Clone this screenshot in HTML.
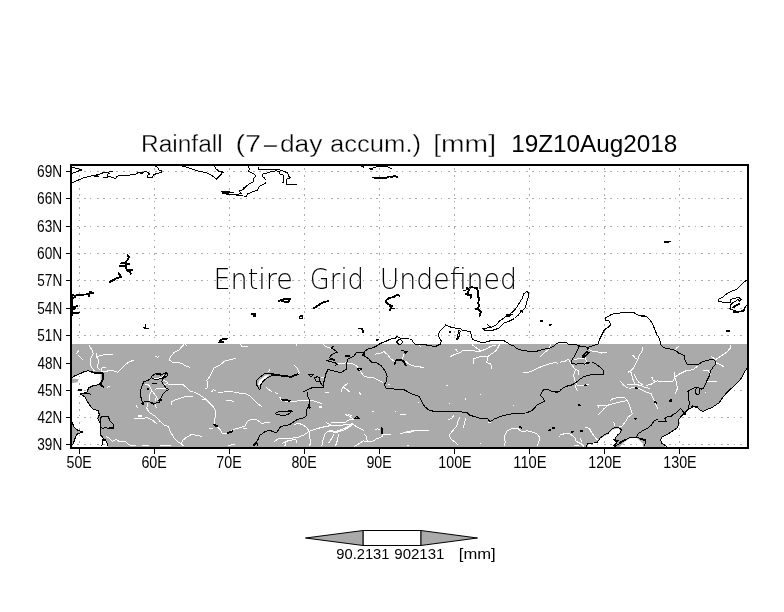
<!DOCTYPE html>
<html><head><meta charset="utf-8"><title>Rainfall (7-day accum.) [mm]</title>
<style>html,body{margin:0;padding:0;background:#fff}svg{display:block}text{font-family:"Liberation Sans","DejaVu Sans",sans-serif;fill:#000}.tt{stroke:#fff;stroke-width:0.35px;paint-order:fill stroke}.lt{font-family:"DejaVu Sans","Liberation Sans",sans-serif;font-weight:200;stroke:none}.b{shape-rendering:crispEdges;fill:none;stroke:#000;stroke-width:8;stroke-linejoin:round;stroke-linecap:butt}.B{shape-rendering:crispEdges;fill:none;stroke:#000;stroke-width:15;stroke-linejoin:round;stroke-linecap:round}.w{shape-rendering:crispEdges;fill:none;stroke:#fff;stroke-width:8;stroke-linejoin:round}.W{shape-rendering:crispEdges;fill:none;stroke:#fff;stroke-width:16;stroke-linejoin:round}.g{shape-rendering:crispEdges;stroke:#aaaaaa;stroke-width:1;stroke-dasharray:2 4.5 2 4.5 1 5.5;fill:none}</style></head><body>
<svg width="784" height="612" viewBox="0 0 784 612">
<rect width="784" height="612" fill="#fff"/>
<rect x="71" y="344" width="677" height="104" fill="#aaaaaa"/>
<g transform="translate(70 316) scale(0.125)"><path d="M16,495 L40,480 L80,464 L110,450 L145,440 L175,450 L205,460 L245,462 L245,520 L228,545 L185,556 L150,572 L132,608 L16,608 Z" fill="#fff"/></g>
<g transform="translate(658 316) scale(0.125)"><path d="M712,420 L690,450 L670,490 L650,520 L620,550 L580,585 L555,608 L712,608 Z" fill="#fff"/></g>
<g transform="translate(70 392) scale(0.125)"><path d="M16,0 L132,0 L85,20 L120,40 L150,95 L180,135 L225,150 L235,180 L222,215 L240,245 L240,300 L245,345 L268,370 L290,395 L305,448 L16,448 Z" fill="#fff"/></g>
<g transform="translate(560 392) scale(0.125)"><path d="M215,448 L230,412 L300,402 L325,372 L385,335 L420,300 L470,290 L485,320 L455,350 L440,380 L450,405 L430,448 Z" fill="#fff"/><path d="M470,448 L520,395 L560,370 L610,365 L640,390 L660,410 L665,448 Z" fill="#fff"/></g>
<g transform="translate(658 392) scale(0.125)"><path d="M555,0 L530,30 L510,55 L490,85 L460,105 L430,125 L400,135 L360,155 L330,145 L310,120 L285,120 L240,145 L215,170 L180,200 L160,230 L165,265 L150,290 L120,310 L90,330 L60,345 L30,360 L20,385 L30,410 L65,448 L712,448 L712,0 Z" fill="#fff"/></g>
<g transform="translate(236 360) scale(0.125)"><path d="M175,200 L185,165 L230,125 L265,118 L245,140 L215,165 L200,200 Z" fill="#fff"/></g>
<g transform="translate(70 316) scale(0.125)"><path d="M16,500 L70,505 L60,530 L16,535 Z" fill="#aaaaaa"/></g>
<g transform="translate(70 392) scale(0.125)"><path d="M16,245 L30,275 L55,300 L100,320 L60,335 L45,355 L35,390 L20,425 L16,448 Z" fill="#aaaaaa"/><path d="M240,215 L250,200 L305,195 L320,230 L350,260 L345,285 L320,295 L290,285 L260,290 L245,275 Z" fill="#aaaaaa"/></g>
<line class="g" x1="77" x2="746" y1="444.5" y2="444.5"/>
<line class="g" x1="77" x2="746" y1="417.5" y2="417.5"/>
<line class="g" x1="77" x2="746" y1="390.5" y2="390.5"/>
<line class="g" x1="77" x2="746" y1="363.5" y2="363.5"/>
<line class="g" x1="77" x2="746" y1="335.5" y2="335.5"/>
<line class="g" x1="77" x2="746" y1="308.5" y2="308.5"/>
<line class="g" x1="77" x2="746" y1="280.5" y2="280.5"/>
<line class="g" x1="77" x2="746" y1="253.5" y2="253.5"/>
<line class="g" x1="77" x2="746" y1="226.5" y2="226.5"/>
<line class="g" x1="77" x2="746" y1="198.5" y2="198.5"/>
<line class="g" x1="77" x2="746" y1="171.5" y2="171.5"/>
<line class="g" x1="79.5" x2="79.5" y1="168" y2="446"/>
<line class="g" x1="154.5" x2="154.5" y1="168" y2="446"/>
<line class="g" x1="229.5" x2="229.5" y1="168" y2="446"/>
<line class="g" x1="304.5" x2="304.5" y1="168" y2="446"/>
<line class="g" x1="379.5" x2="379.5" y1="168" y2="446"/>
<line class="g" x1="454.5" x2="454.5" y1="168" y2="446"/>
<line class="g" x1="529.5" x2="529.5" y1="168" y2="446"/>
<line class="g" x1="604.5" x2="604.5" y1="168" y2="446"/>
<line class="g" x1="679.5" x2="679.5" y1="168" y2="446"/>
<g transform="translate(70 316) scale(0.125)"><path class="w" d="M150,228 L165,255 L180,280 L185,300 L170,330 L160,360 L165,395 L180,420 L195,440"/><path class="w" d="M210,300 L215,330 L225,345 L225,380 L220,410 L240,430"/><path class="w" d="M215,330 L240,315 L290,308 L340,312"/><path class="w" d="M250,440 L255,415 L285,410"/><path class="w" d="M250,440 L300,440 L340,435 L380,450 L420,410 L460,375 L510,352"/><path class="w" d="M50,305 L70,275"/><path class="w" d="M60,310 L80,330 L108,355"/><path class="w" d="M680,320 L700,330 L715,325"/><path class="w" d="M295,572 L320,562"/></g>
<g transform="translate(168 316) scale(0.125)"><path class="w" d="M130,228 L110,245 L90,270 L50,290 L25,320 L10,350 L40,375 L80,368 L120,385 L150,405 L175,410"/><path class="w" d="M135,228 L155,235"/><path class="w" d="M580,228 L595,248 L640,240"/><path class="w" d="M545,340 L500,348 L450,362 L420,390 L370,415 L350,455 L330,490 L310,515 L320,545 L315,575 L300,582"/><path class="w" d="M0,548 L40,545 L80,550 L120,548 L150,575 L175,600 L200,608"/><path class="w" d="M350,608 L360,590 L385,600"/><path class="w" d="M450,606 L520,604"/></g>
<g transform="translate(266 316) scale(0.125)"><path class="w" d="M240,228 L245,240"/><path class="w" d="M460,228 L480,245 L520,258"/><path class="w" d="M570,385 L610,378 L640,375 L690,380 L720,395 L740,420 L760,450 L784,480"/><path class="w" d="M225,395 L250,420 L265,450 L262,462"/><path class="w" d="M35,420 L20,450"/><path class="w" d="M0,570 L40,600 L50,608"/><path class="w" d="M600,608 L610,575 L640,548 L660,540"/><path class="w" d="M620,570 L650,590 L670,608"/><path class="w" d="M440,490 L460,490"/></g>
<g transform="translate(364 316) scale(0.125)"><path class="w" d="M90,305 L130,298 L160,285 L190,310 L215,345 L250,365"/><path class="w" d="M310,345 L315,300"/><path class="w" d="M330,360 L360,385 L400,400 L440,405 L480,415"/><path class="w" d="M0,485 L40,490 L80,495 L120,515 L150,530"/><path class="w" d="M190,545 L210,550"/><path class="w" d="M440,235 L460,250"/><path class="w" d="M690,325 L720,310 L750,300 L784,285"/><path class="w" d="M730,262 L750,285"/><path class="w" d="M655,555 L670,555"/></g>
<g transform="translate(462 316) scale(0.125)"><path class="w" d="M0,280 L40,272 L100,280 L150,280 L200,262 L230,242 L270,235 L275,228"/><path class="w" d="M80,228 L100,245 L130,265 L150,280"/><path class="w" d="M300,228 L290,250 L270,280 L240,300 L210,320 L150,325 L95,340 L90,385"/><path class="w" d="M210,320 L205,350 L195,370 L230,385 L240,420"/><path class="w" d="M620,330 L650,300 L690,270 L710,228"/><path class="w" d="M490,452 L540,448 L600,420 L660,395 L720,378 L750,370 L765,380"/></g>
<g transform="translate(560 316) scale(0.125)"><path class="w" d="M0,370 L40,362 L70,345 L80,365 L100,400 L125,430 L110,470 L115,510 L130,540 L125,570 L140,600"/><path class="w" d="M130,430 L150,440 L150,470"/><path class="w" d="M110,350 L150,340 L205,335 L210,365 L200,395"/><path class="w" d="M235,270 L270,285 L320,290 L375,292"/><path class="w" d="M330,285 L335,300"/><path class="w" d="M660,250 L655,290 L635,310 L625,345 L605,385 L585,420 L565,440 L545,450"/><path class="w" d="M580,310 L600,335 L620,345"/><path class="w" d="M565,440 L575,480 L585,510 L600,545 L640,555 L680,570 L720,580"/><path class="w" d="M595,465 L610,500 L630,530 L660,550"/><path class="w" d="M485,522 L510,555 L540,575"/><path class="w" d="M540,550 L580,545 L600,545"/><path class="w" d="M690,555 L730,545 L765,525 L784,515"/><path class="w" d="M735,490 L745,515 L765,525"/><path class="w" d="M555,580 L590,570 L640,585 L690,608"/><path class="w" d="M125,550 L170,560 L230,548"/></g>
<g transform="translate(658 316) scale(0.125)"><path class="w" d="M580,228 L580,255 L555,285 L520,310 L480,335 L460,350"/><path class="w" d="M425,325 L460,345"/><path class="w" d="M465,375 L500,390 L530,410"/><path class="w" d="M140,275 L150,250 L170,245"/><path class="w" d="M0,520 L60,520 L120,522 L135,490 L130,445"/><path class="w" d="M135,490 L170,465 L220,440 L280,430 L320,400"/><path class="w" d="M135,490 L150,540 L155,580 L145,608"/><path class="w" d="M360,435 L400,435 L420,470"/><path class="w" d="M395,525 L440,520 L470,525"/></g>
<g transform="translate(70 392) scale(0.125)"><path class="w" d="M620,90 L615,130 L630,160 L660,180 L690,200 L720,235 L750,262 L784,275"/><path class="w" d="M680,90 L690,130"/><path class="w" d="M510,215 L540,210 L580,212 L620,205 L660,225 L695,255"/><path class="w" d="M530,105 L540,125"/><path class="w" d="M290,355 L320,375 L340,395 L370,380 L400,400 L440,395 L470,420 L490,430"/><path class="w" d="M488,430 L528,430"/><path class="w" d="M576,430 L632,430"/><path class="w" d="M720,430 L784,430"/><path class="W" d="M540,190 L575,190"/></g>
<g transform="translate(168 392) scale(0.125)"><path class="w" d="M210,0 L240,15 L270,35 L300,55 L330,85 L360,115 L380,150 L378,200 L370,250 L395,280 L420,305 L435,335 L470,335 L500,315 L540,295 L580,285 L620,270 L630,240 L660,220 L700,218 L730,235 L750,255 L784,240"/><path class="w" d="M270,65 L300,55"/><path class="w" d="M25,100 L30,75 L70,60 L110,45 L150,35 L200,35"/><path class="w" d="M330,292 L360,290"/><path class="w" d="M465,68 L500,68 L525,75"/><path class="w" d="M530,0 L570,8 L620,15 L660,35 L690,65 L720,95 L750,118"/><path class="w" d="M0,270 L20,320 L50,370 L80,400 L105,412 L120,385 L150,360 L185,342 L230,345 L270,355"/><path class="w" d="M105,412 L125,435"/><path class="w" d="M480,433 L500,425 L535,420"/><path class="w" d="M600,290 L635,290"/><path class="w" d="M400,0 L440,5"/><path class="w" d="M0,430 L26,430"/></g>
<g transform="translate(266 392) scale(0.125)"><path class="w" d="M110,40 L125,70 L180,75 L250,72 L330,68 L380,70 L420,85 L450,95"/><path class="w" d="M70,0 L100,20"/><path class="w" d="M0,240 L30,245"/><path class="w" d="M225,260 L260,250 L300,265 L330,290 L345,315 L350,360 L355,400 L350,435"/><path class="w" d="M345,315 L400,295 L460,280 L510,270 L560,265 L610,265 L650,260 L690,255 L730,280 L784,310"/><path class="w" d="M480,245 L520,265"/><path class="w" d="M520,245 L560,245 L640,240 L660,225 L700,218"/><path class="w" d="M635,180 L670,195 L700,218"/><path class="w" d="M660,180 L690,190"/><path class="w" d="M470,340 L500,310"/><path class="w" d="M470,340 L455,390 L445,435"/><path class="w" d="M545,335 L520,380 L500,410"/><path class="w" d="M580,340 L570,390 L555,435"/><path class="w" d="M65,395 L100,375 L150,375 L200,370 L250,365 L300,345 L345,315"/><path class="w" d="M130,410 L160,395 L200,385 L240,380"/><path class="w" d="M150,435 L160,400"/><path class="w" d="M240,380 L245,410"/><path class="w" d="M784,385 L750,410 L720,430 L700,435"/><path class="w" d="M470,0 L500,5"/><path class="w" d="M745,5 L760,20"/><path class="W" d="M500,310 L560,320 L620,300 L660,280 L690,255"/><path class="W" d="M420,118 L450,118"/></g>
<g transform="translate(364 392) scale(0.125)"><path class="w" d="M0,335 L20,355 L25,395"/><path class="w" d="M0,395 L70,395 L100,375 L150,355 L150,340 L215,340"/><path class="w" d="M85,305 L110,295 L130,300"/><path class="w" d="M290,180 L335,180"/><path class="w" d="M66,155 L76,155"/><path class="w" d="M246,155 L254,155"/><path class="w" d="M431,85 L439,85"/><path class="w" d="M681,92 L689,92"/><path class="w" d="M675,218 L700,215 L720,185"/><path class="w" d="M765,200 L750,240 L740,275 L710,310 L680,345 L695,375 L720,395 L750,420"/><path class="w" d="M345,430 L360,430"/><path class="w" d="M290,330 L340,325 L400,312 L460,308 L520,308"/><path class="W" d="M340,323 L400,312"/></g>
<g transform="translate(462 392) scale(0.125)"><path class="w" d="M340,435 L345,400 L340,355 L360,310 L400,292 L450,295 L480,320 L520,310 L560,320 L600,335 L620,360 L615,400 L600,435"/><path class="w" d="M30,210 L20,250 L12,285"/><path class="w" d="M146,20 L154,20"/><path class="w" d="M28,50 L28,60"/><path class="w" d="M411,105 L419,105"/><path class="w" d="M144,410 L152,410"/><path class="w" d="M776,355 L784,355"/><path class="w" d="M210,240 L235,240"/></g>
<g transform="translate(560 392) scale(0.125)"><path class="w" d="M305,180 L330,160 L350,135 L385,105 L300,108 L310,125"/><path class="w" d="M385,105 L440,90 L500,75 L540,70 L555,100 L565,140 L580,175 L545,200 L525,235 L500,270 L470,280"/><path class="w" d="M400,70 L430,50 L480,45 L520,48 L540,70"/><path class="w" d="M420,238 L435,250 L435,275"/><path class="w" d="M0,345 L40,332 L80,335 L120,365 L130,395 L170,415 L190,435"/><path class="w" d="M200,285 L235,290 L250,320 L275,355 L300,385"/><path class="w" d="M165,365 L170,400"/><path class="w" d="M110,432 L150,425"/><path class="w" d="M690,0 L730,15 L745,50 L760,85 L775,120 L784,135"/></g>
<g transform="translate(658 392) scale(0.125)"><path class="w" d="M140,0 L145,20"/><path class="w" d="M380,0 L380,8"/></g>
<g transform="translate(125 360) scale(0.125)"><path class="w" d="M160,195 L190,200 L210,235 L225,260 L250,290 L265,320"/><path class="w" d="M215,240 L200,270 L195,300 L200,325"/><path class="w" d="M240,300 L240,330"/><path class="w" d="M240,235 L270,225 L310,225 L340,230"/><path class="w" d="M230,148 L260,148 L290,140 L318,120"/><path class="w" d="M305,165 L335,170 L340,190 L310,195"/></g>
<g transform="translate(70 164) scale(0.125)"><path class="b" d="M16,28 L60,35 L85,45 L62,60 L16,75"/><path class="b" d="M16,150 L45,138 L75,125 L110,110 L150,100 L200,90 L235,82 L270,68 L300,66 L345,60"/><path class="b" d="M205,100 L235,100"/><path class="b" d="M265,110 L300,110 L305,95 L300,82 L320,72"/><path class="b" d="M300,95 L330,105 L350,112 L360,122 L375,100 L400,92 L440,90 L480,88 L520,85 L540,72 L570,68 L600,62 L625,65 L635,80 L620,90 L620,105 L660,105 L668,85 L700,75 L735,65 L735,55 L715,50 L705,35 L690,20 L680,14"/><path class="B" d="M84,46 L92,52"/><path class="B" d="M200,100 L215,96"/><path class="B" d="M570,72 L580,76"/></g>
<g transform="translate(168 164) scale(0.125)"><path class="b" d="M100,14 L150,25 L200,42 L245,58 L300,68 L340,85 L388,120 L410,100 L440,65 L410,60 L385,40 L370,14"/><path class="b" d="M640,14 L650,40 L645,60 L680,75 L705,95 L685,115 L685,140 L650,160 L615,185 L600,205 L570,215 L585,235 L545,245 L500,245 L460,240 L430,220 L480,222 L530,228"/><path class="b" d="M500,245 L545,248 L590,255 L630,258 L635,240 L670,225 L715,210 L730,180 L760,165 L784,150"/><path class="b" d="M784,130 L770,110 L755,100 L760,80 L784,75"/><path class="b" d="M720,20 L720,45 L784,48"/><path class="B" d="M430,220 L490,224"/><path class="B" d="M440,232 L480,238"/><path class="B" d="M605,195 L625,180"/><path class="B" d="M430,62 L442,68"/></g>
<g transform="translate(266 164) scale(0.125)"><path class="b" d="M0,48 L30,42 L80,42 L120,50 L150,62 L175,70 L180,100 L200,110 L165,120 L160,150 L165,162 L250,162"/><path class="b" d="M0,75 L40,62 L80,55 L105,60 L105,78 L140,90 L140,120 L140,150 L130,152"/><path class="B" d="M765,16 L780,22"/></g>
<g transform="translate(364 164) scale(0.125)"><path class="b" d="M55,40 L70,32 L100,22 L150,18 L200,25 L220,38"/><path class="B" d="M75,108 L120,112 L180,110 L200,100 L230,102 L245,92 L265,105"/><path class="B" d="M50,38 L66,42"/></g>
<g transform="translate(70 240) scale(0.125)"><path class="B" d="M460,118 L470,135 L465,155 L450,170 L445,200 L450,230 L460,245 L480,250 L485,270"/><path class="B" d="M410,185 L475,190"/><path class="B" d="M395,210 L440,210"/><path class="B" d="M470,238 L500,238"/><path class="B" d="M388,262 L408,295 L375,305 L345,322 L318,335"/><path class="B" d="M16,440 L40,445 L80,440 L130,435 L160,425 L185,422 L160,415"/><path class="B" d="M150,450 L160,420"/><path class="B" d="M16,470 L40,455"/><path class="B" d="M16,540 L40,535 L60,525"/><path class="B" d="M16,560 L40,550"/><path class="B" d="M16,582 L70,582"/><path class="B" d="M20,440 L20,600"/></g>
<g transform="translate(168 240) scale(0.125)"><path class="B" d="M670,590 L695,590 L690,604"/></g>
<g transform="translate(266 240) scale(0.125)"><path class="B" d="M105,488 L130,478 L160,470 L190,472 L180,495 L150,495 L130,488"/><path class="B" d="M380,548 L420,520 L460,498 L500,488"/><path class="B" d="M280,604 L290,604"/></g>
<g transform="translate(364 240) scale(0.125)"><path class="B" d="M285,448 L265,438 L240,455 L200,465 L180,480 L172,495 L190,510 L210,520 L215,545 L210,560"/><path class="B" d="M205,525 L225,530"/><path class="B" d="M230,548 L238,548"/></g>
<g transform="translate(462 240) scale(0.125)"><path class="b" d="M10,405 L35,400 L50,385 L80,378 L120,385 L130,420 L135,460 L130,500 L135,530 L125,555 L150,575 L140,608"/><path class="b" d="M520,412 L495,430 L480,470 L455,510 L430,550 L400,580 L370,600 L350,608"/><path class="b" d="M520,412 L535,425 L530,460 L515,500 L510,540 L490,560 L470,575 L445,608"/><path class="B" d="M40,385 L55,400 L45,420 L55,440 L75,438 L70,462"/><path class="B" d="M30,430 L50,440"/><path class="B" d="M80,378 L120,385 L130,420 L125,450 L138,470 L130,500 L135,530 L122,548 L150,575 L140,608"/><path class="B" d="M110,550 L140,560"/><path class="B" d="M360,600 L400,596"/><path class="B" d="M470,565 L485,575"/></g>
<g transform="translate(560 240) scale(0.125)"><path class="b" d="M395,608 L410,595 L450,588 L500,582 L540,578 L590,580 L620,600 L680,602"/></g>
<g transform="translate(658 240) scale(0.125)"><path class="b" d="M712,320 L690,335 L660,365 L630,395 L590,410 L550,430 L520,455 L485,475 L485,490 L520,498 L580,498 L580,475 L610,465 L650,462 L665,475 L650,490 L640,470 L620,490 L600,500 L580,520 L575,550 L600,560 L640,575 L680,575 L690,555 L700,530 L712,525"/><path class="B" d="M55,18 L95,12"/><path class="B" d="M600,540 L650,510"/><path class="B" d="M605,575 L640,580"/><path class="B" d="M670,570 L688,560"/></g>
<g transform="translate(70 316) scale(0.125)"><path class="b" d="M16,495 L40,478 L80,462 L110,447 L145,437 L175,448"/><path class="b" d="M240,548 L185,558 L150,575 L135,608"/><path class="b" d="M585,95 L630,98"/><path class="b" d="M605,68 L598,108"/><path class="B" d="M175,448 L205,457 L260,455 L268,485 L258,520 L240,545 L265,565"/><path class="B" d="M70,595 L90,590"/></g>
<g transform="translate(168 316) scale(0.125)"><path class="B" d="M410,210 L415,195 L440,185 L470,182"/><path class="B" d="M410,210 L440,210"/><path class="B" d="M690,2 L700,2"/></g>
<g transform="translate(266 316) scale(0.125)"><path class="b" d="M268,5 L295,5 L295,20 L268,20 Z"/><path class="b" d="M545,240 L520,255 L545,270 L570,290 L545,300 L520,315 L510,335 L540,345 L520,350 L485,355 L510,365 L545,370 L570,385 L555,395"/><path class="b" d="M784,290 L760,290 L720,295 L705,320 L680,330 L655,345 L645,375 L640,400 L645,425 L620,440 L595,455 L570,445 L540,440 L515,432 L495,430 L480,460 L470,500 L460,540 L455,560 L460,575 L430,570 L380,570 L340,585 L310,600 L300,608"/><path class="b" d="M730,420 L765,422 L745,440 Z"/><path class="b" d="M340,468 L380,470 L360,485 Z"/><path class="b" d="M390,495 L410,485 L430,495 L430,520 L410,525 L395,515 Z"/><path class="b" d="M430,520 L445,550 L460,560"/><path class="B" d="M745,100 L770,100 L775,130"/><path class="B" d="M640,320 L665,318"/><path class="B" d="M515,345 L545,350"/><path class="B" d="M784,295 L775,312"/></g>
<g transform="translate(364 316) scale(0.125)"><ellipse cx="285" cy="208" rx="22" ry="18" fill="#fff" stroke="#000" stroke-width="8" shape-rendering="crispEdges"/><path class="b" d="M0,285 L30,265 L70,255 L100,240 L130,220 L170,205 L210,185 L250,178 L265,165 L290,178 L330,182 L380,185 L395,210 L410,228 L450,230 L500,232 L540,240 L580,240 L610,225 L620,200 L605,180 L595,150 L605,125 L630,100 L655,70 L680,85 L720,95 L784,105"/><path class="b" d="M0,285 L5,320 L40,345 L60,370 L100,375 L135,395 L155,420 L175,455 L185,485 L180,520 L165,545 L170,575 L200,582 L260,585 L320,590 L350,605"/><path class="b" d="M295,275 L320,280"/><path class="b" d="M320,285 L345,285 L335,300 Z"/><path class="b" d="M745,185 L750,150 L760,115 L770,120 L765,150 L755,180 Z"/><path class="B" d="M245,385 L255,355 L290,350 L320,365 L335,395"/><path class="B" d="M260,352 L300,352"/><path class="B" d="M100,190 L110,190"/><path class="B" d="M684,125 L692,125"/><path class="B" d="M740,185 L752,180"/></g>
<g transform="translate(462 316) scale(0.125)"><path class="b" d="M0,115 L40,120 L70,128 L75,165 L90,190 L130,205 L165,215 L200,205 L240,195 L290,195 L340,200 L365,215 L380,230 L410,235 L430,255 L460,270 L500,278 L540,282 L580,288 L620,275 L660,265 L700,258 L730,245 L750,225 L784,210"/><path class="b" d="M350,0 L330,20 L300,40 L280,65 L250,85 L230,90 L200,68"/><path class="b" d="M160,100 L210,95 L230,88"/><path class="b" d="M440,0 L420,20 L380,40 L340,55 L320,70 L300,95 L260,110 L220,120 L180,112 L160,100"/><path class="b" d="M640,608 L650,592 L690,590 L720,602 L784,606"/><path class="B" d="M630,38 L640,38"/><path class="B" d="M702,72 L714,68"/><path class="B" d="M350,4 L380,0"/></g>
<g transform="translate(560 316) scale(0.125)"><path class="b" d="M0,210 L50,212 L75,230 L120,228 L155,238 L180,245 L230,250 L270,235 L305,225 L315,190 L335,150 L355,110 L385,90 L405,70 L395,40 L365,35 L365,15 L395,0"/><path class="b" d="M645,0 L690,5 L720,30 L740,65 L760,110 L775,150 L784,160"/><path class="b" d="M155,238 L135,280 L115,320 L95,355 L90,380 L130,385 L170,380 L200,385 L225,375"/><path class="b" d="M255,370 L290,385 L320,410 L345,435 L345,470 L310,465 L270,465 L230,475 L190,485 L160,505 L130,530 L100,550 L60,560 L25,575 L0,595"/><path class="b" d="M230,250 L215,275"/><path class="B" d="M180,325 L195,305 L215,285 L230,295 L215,310 L195,325 Z"/><path class="B" d="M200,555 L210,555"/><path class="B" d="M605,572 L615,578"/><path class="B" d="M215,378 L230,372"/></g>
<g transform="translate(658 316) scale(0.125)"><path class="b" d="M0,160 L15,195 L25,235 L50,255 L100,265 L140,275 L170,300 L210,315 L215,350 L235,390 L280,392 L320,390 L350,370 L390,355 L430,348 L455,355 L460,390 L440,410 L420,440 L410,480 L395,510 L380,545 L360,580 L345,585 L320,570 L290,575 L260,590 L230,608"/><path class="b" d="M300,608 L305,580 L320,570 L335,585 L335,608"/><path class="b" d="M712,420 L690,450 L670,490 L650,520 L620,550 L580,585 L555,608"/><path class="B" d="M553,120 L573,120"/></g>
<g transform="translate(70 392) scale(0.125)"><path class="b" d="M135,0 L85,18 L120,40 L150,95 L180,135 L225,150 L235,180 L222,215 L240,245 L240,300 L245,345 L268,370 L258,400 L255,435"/><path class="b" d="M80,15 L120,10 L170,18"/><path class="b" d="M268,370 L290,395 L305,435"/><path class="b" d="M16,240 L30,275 L50,300 L100,320 L60,335 L45,355 L35,390 L20,425"/><path class="b" d="M240,215 L250,200 L305,195 L320,230 L350,260 L345,285 L320,295 L290,285 L260,290 L245,275 Z"/><path class="B" d="M265,380 L280,385"/><path class="B" d="M320,290 L345,288"/></g>
<g transform="translate(168 392) scale(0.125)"><path class="b" d="M784,310 L760,330 L735,345 L720,380 L705,405"/><path class="b" d="M715,405 L715,435"/><path class="B" d="M370,262 L392,270"/><path class="B" d="M478,328 L515,315"/><path class="B" d="M705,405 L688,422"/></g>
<g transform="translate(266 392) scale(0.125)"><path class="b" d="M330,0 L330,30 L345,60 L350,110 L330,130 L320,160 L320,195 L290,210 L250,220 L220,240 L190,260 L150,270 L120,275 L100,300 L90,320 L60,320 L30,305 L0,315"/><path class="b" d="M710,210 L725,195 L745,212 Z"/><path class="b" d="M75,170 L100,158 L150,155 L190,150 L205,155 L190,172 L160,185 L120,185 L85,180 Z"/><path class="B" d="M130,62 L190,70"/><path class="B" d="M345,100 L350,125"/><path class="B" d="M180,152 L205,155"/></g>
<g transform="translate(364 392) scale(0.125)"><path class="b" d="M350,0 L380,15 L440,35 L455,60 L470,95 L490,120 L520,145 L560,155 L620,158 L680,160 L720,158 L784,160"/><path class="B" d="M140,285 L145,330"/></g>
<g transform="translate(462 392) scale(0.125)"><path class="b" d="M0,160 L40,165 L60,185 L110,200 L160,215 L205,215 L225,238 L260,215 L310,195 L370,178 L440,172 L510,168 L560,150 L600,105 L660,75 L650,50 L630,30 L635,0"/><path class="B" d="M462,278 L474,286"/><path class="B" d="M694,308 L706,302"/><path class="B" d="M730,288 L740,288"/><path class="B" d="M750,2 L760,2"/></g>
<g transform="translate(560 392) scale(0.125)"><path class="b" d="M210,435 L225,410 L270,408 L300,400 L320,370 L350,345 L385,330 L410,300 L435,285 L470,285 L490,300 L485,325 L460,345 L440,370 L445,395 L470,385 L450,410 L430,430 L440,435"/><path class="b" d="M440,435 L480,410 L520,385 L560,365 L610,360 L640,370 L680,380 L685,410 L670,435"/><path class="b" d="M610,360 L625,335 L660,310 L700,290 L730,265 L750,235 L770,222 L784,220"/><path class="B" d="M148,105 L158,105"/><path class="B" d="M96,322 L104,318"/><path class="B" d="M166,312 L178,312"/><path class="B" d="M602,213 L610,213"/><path class="B" d="M760,80 L770,86"/><path class="B" d="M430,380 L450,390"/><path class="B" d="M480,405 L520,385"/><path class="B" d="M640,372 L680,385"/></g>
<g transform="translate(658 392) scale(0.125)"><path class="b" d="M555,0 L530,30 L510,55 L490,85 L460,105 L430,125 L400,135 L360,155 L330,140 L310,115 L285,115 L270,125 L240,140 L215,165 L200,180"/><path class="b" d="M0,240 L40,238 L65,235 L55,210 L80,195 L100,200 L120,180 L150,165 L170,140 L180,132 L200,155 L215,165"/><path class="b" d="M240,0 L245,40 L250,90 L245,125 L240,140"/><path class="b" d="M200,180 L180,200 L160,230 L165,265 L150,290 L120,310 L90,330 L60,345 L30,360 L20,385 L30,410 L60,430 L70,435"/><path class="b" d="M300,0 L305,15 L320,20 L335,12 L335,0"/><path class="B" d="M92,72 L108,62 L104,76 Z"/><path class="B" d="M275,115 L315,118"/><path class="B" d="M205,165 L215,175"/></g>
<g transform="translate(125 360) scale(0.125)"><path class="b" d="M330,100 L345,120 L320,140 L300,150 L295,175 L310,200 L330,225 L350,235 L320,255 L300,275 L290,300 L275,320 L280,340 L240,345 L215,345 L190,330 L160,330 L140,350 L135,320 L125,290 L122,250 L135,210 L150,175 L180,165 L205,150 L215,130 L240,112 L270,105 L300,115 L330,100"/><path class="b" d="M215,150 L250,155 L290,150 L310,135 L330,100"/><path class="B" d="M255,112 L285,118"/><path class="B" d="M222,188 L228,188"/><path class="B" d="M240,188 L246,188"/><path class="B" d="M180,232 L186,232"/><path class="B" d="M136,350 L146,352"/><path class="B" d="M214,345 L226,350"/><path class="B" d="M716,520 L728,526"/><path class="B" d="M275,325 L290,322"/></g>
<g transform="translate(236 360) scale(0.125)"><path class="b" d="M190,240 L165,200 L160,172 L185,142 L230,108 L270,108 L300,112"/><path class="b" d="M190,240 L198,200 L218,170 L250,142 L290,125"/><path class="B" d="M290,118 L340,122 L400,130 L440,135 L470,122 L495,115"/></g>
<rect x="71" y="165" width="677" height="283" fill="none" stroke="#000" stroke-width="2"/>
<line x1="66" x2="70" y1="444.5" y2="444.5" stroke="#000" stroke-width="1" shape-rendering="crispEdges"/>
<text x="37.28" y="450.0" font-size="16.0" textLength="24.93" lengthAdjust="spacingAndGlyphs">39N</text>
<line x1="66" x2="70" y1="417.5" y2="417.5" stroke="#000" stroke-width="1" shape-rendering="crispEdges"/>
<text x="37.49" y="423.0" font-size="16.0" textLength="24.71" lengthAdjust="spacingAndGlyphs">42N</text>
<line x1="66" x2="70" y1="390.5" y2="390.5" stroke="#000" stroke-width="1" shape-rendering="crispEdges"/>
<text x="37.49" y="396.0" font-size="16.0" textLength="24.71" lengthAdjust="spacingAndGlyphs">45N</text>
<line x1="66" x2="70" y1="363.5" y2="363.5" stroke="#000" stroke-width="1" shape-rendering="crispEdges"/>
<text x="37.49" y="369.0" font-size="16.0" textLength="24.71" lengthAdjust="spacingAndGlyphs">48N</text>
<line x1="66" x2="70" y1="335.5" y2="335.5" stroke="#000" stroke-width="1" shape-rendering="crispEdges"/>
<text x="37.26" y="341.0" font-size="16.0" textLength="24.95" lengthAdjust="spacingAndGlyphs">51N</text>
<line x1="66" x2="70" y1="308.5" y2="308.5" stroke="#000" stroke-width="1" shape-rendering="crispEdges"/>
<text x="37.26" y="314.0" font-size="16.0" textLength="24.95" lengthAdjust="spacingAndGlyphs">54N</text>
<line x1="66" x2="70" y1="280.5" y2="280.5" stroke="#000" stroke-width="1" shape-rendering="crispEdges"/>
<text x="37.26" y="286.0" font-size="16.0" textLength="24.95" lengthAdjust="spacingAndGlyphs">57N</text>
<line x1="66" x2="70" y1="253.5" y2="253.5" stroke="#000" stroke-width="1" shape-rendering="crispEdges"/>
<text x="37.10" y="259.0" font-size="16.0" textLength="25.11" lengthAdjust="spacingAndGlyphs">60N</text>
<line x1="66" x2="70" y1="226.5" y2="226.5" stroke="#000" stroke-width="1" shape-rendering="crispEdges"/>
<text x="37.10" y="232.0" font-size="16.0" textLength="25.11" lengthAdjust="spacingAndGlyphs">63N</text>
<line x1="66" x2="70" y1="198.5" y2="198.5" stroke="#000" stroke-width="1" shape-rendering="crispEdges"/>
<text x="37.10" y="204.0" font-size="16.0" textLength="25.11" lengthAdjust="spacingAndGlyphs">66N</text>
<line x1="66" x2="70" y1="171.5" y2="171.5" stroke="#000" stroke-width="1" shape-rendering="crispEdges"/>
<text x="37.10" y="177.0" font-size="16.0" textLength="25.11" lengthAdjust="spacingAndGlyphs">69N</text>
<line x1="79.5" x2="79.5" y1="449" y2="454" stroke="#000" stroke-width="1" shape-rendering="crispEdges"/>
<text x="66.53" y="467.8" font-size="16.0" textLength="25.17" lengthAdjust="spacingAndGlyphs">50E</text>
<line x1="154.5" x2="154.5" y1="449" y2="454" stroke="#000" stroke-width="1" shape-rendering="crispEdges"/>
<text x="141.38" y="467.8" font-size="16.0" textLength="25.33" lengthAdjust="spacingAndGlyphs">60E</text>
<line x1="229.5" x2="229.5" y1="449" y2="454" stroke="#000" stroke-width="1" shape-rendering="crispEdges"/>
<text x="216.37" y="467.8" font-size="16.0" textLength="25.34" lengthAdjust="spacingAndGlyphs">70E</text>
<line x1="304.5" x2="304.5" y1="449" y2="454" stroke="#000" stroke-width="1" shape-rendering="crispEdges"/>
<text x="291.48" y="467.8" font-size="16.0" textLength="25.23" lengthAdjust="spacingAndGlyphs">80E</text>
<line x1="379.5" x2="379.5" y1="449" y2="454" stroke="#000" stroke-width="1" shape-rendering="crispEdges"/>
<text x="366.43" y="467.8" font-size="16.0" textLength="25.28" lengthAdjust="spacingAndGlyphs">90E</text>
<line x1="454.5" x2="454.5" y1="449" y2="454" stroke="#000" stroke-width="1" shape-rendering="crispEdges"/>
<text x="438.31" y="467.8" font-size="16.0" textLength="33.30" lengthAdjust="spacingAndGlyphs">100E</text>
<line x1="529.5" x2="529.5" y1="449" y2="454" stroke="#000" stroke-width="1" shape-rendering="crispEdges"/>
<text x="513.31" y="467.8" font-size="16.0" textLength="33.30" lengthAdjust="spacingAndGlyphs">110E</text>
<line x1="604.5" x2="604.5" y1="449" y2="454" stroke="#000" stroke-width="1" shape-rendering="crispEdges"/>
<text x="588.31" y="467.8" font-size="16.0" textLength="33.30" lengthAdjust="spacingAndGlyphs">120E</text>
<line x1="679.5" x2="679.5" y1="449" y2="454" stroke="#000" stroke-width="1" shape-rendering="crispEdges"/>
<text x="663.31" y="467.8" font-size="16.0" textLength="33.30" lengthAdjust="spacingAndGlyphs">130E</text>
<text class="tt" y="151.8" font-size="24.7" xml:space="preserve"><tspan x="140.99" textLength="81.65" lengthAdjust="spacingAndGlyphs">Rainfall</tspan> <tspan x="235.45" textLength="25.75" lengthAdjust="spacingAndGlyphs">(7</tspan><tspan x="261.00" textLength="18.75" lengthAdjust="spacingAndGlyphs">-</tspan><tspan x="279.90" textLength="42.41" lengthAdjust="spacingAndGlyphs">day</tspan> <tspan x="329.91" textLength="91.18" lengthAdjust="spacingAndGlyphs">accum.)</tspan> <tspan x="433.24" textLength="62.78" lengthAdjust="spacingAndGlyphs">[mm]</tspan> <tspan style="stroke:none" x="511.15" textLength="166.16" lengthAdjust="spacingAndGlyphs">19Z10Aug2018</tspan></text>
<text class="lt" y="288.8" font-size="28.8" xml:space="preserve"><tspan x="213.48" textLength="79.55" lengthAdjust="spacingAndGlyphs">Entire</tspan> <tspan x="309.85" textLength="54.10" lengthAdjust="spacingAndGlyphs">Grid</tspan> <tspan x="379.76" textLength="137.30" lengthAdjust="spacingAndGlyphs">Undefined</tspan></text>
<path d="M305.5,538 L363.2,530.5 L363.2,545.5 Z" fill="#aaaaaa" stroke="#000" stroke-width="1"/>
<path d="M477.5,538 L420.8,530.5 L420.8,545.5 Z" fill="#aaaaaa" stroke="#000" stroke-width="1"/>
<rect x="363.2" y="530.5" width="57.6" height="15" fill="#fff" stroke="#000" stroke-width="1"/>
<text x="336.31" y="558.8" font-size="14.5" textLength="53.16" lengthAdjust="spacingAndGlyphs">90.2131</text>
<text x="394.29" y="558.8" font-size="14.5" textLength="50.19" lengthAdjust="spacingAndGlyphs">902131</text>
<text x="458.82" y="558.8" font-size="14.5" textLength="36.87" lengthAdjust="spacingAndGlyphs">[mm]</text>
</svg></body></html>
